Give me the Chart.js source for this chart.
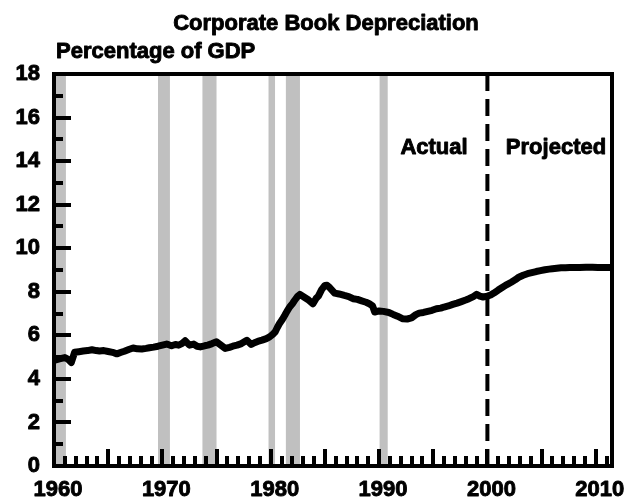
<!DOCTYPE html>
<html><head><meta charset="utf-8">
<script src="https://cdn.jsdelivr.net/npm/chart.js@4/dist/chart.umd.min.js"></script>
<style>html,body{margin:0;padding:0;background:#fff}#wrap{width:633px;height:504px;position:relative}</style>
</head><body><div id="wrap"><canvas id="c" width="633" height="504"></canvas></div>
<script>
const chartTitle = 'Corporate Book Depreciation';
const unitLabel = 'Percentage of GDP';
const labelActual = 'Actual';
const labelProjected = 'Projected';
const projectionStart = 2000;
const xTickYears = [1960, 1970, 1980, 1990, 2000, 2010];
const yTickValues = [0, 2, 4, 6, 8, 10, 12, 14, 16, 18];
const recessions = [[1960.0, 1961.1], [1969.6, 1970.7], [1973.7, 1975.0], [1979.8, 1980.4], [1981.4, 1982.7], [1990.05, 1990.8]];
const years = [1960.0,1960.5,1961.0,1961.3,1961.6,1961.9,1962.3,1962.7,1963.1,1963.5,1963.9,1964.2,1964.6,1965.0,1965.4,1965.8,1966.2,1966.5,1966.9,1967.3,1967.7,1968.1,1968.5,1968.8,1969.2,1969.6,1970.0,1970.4,1970.85,1971.2,1971.5,1971.8,1972.1,1972.5,1972.9,1973.2,1973.5,1973.9,1974.2,1974.6,1975.0,1975.4,1975.8,1976.2,1976.5,1976.9,1977.3,1977.8,1978.2,1978.5,1978.8,1979.2,1979.6,1979.9,1980.2,1980.4,1980.6,1980.8,1981.1,1981.3,1981.5,1981.75,1982.0,1982.2,1982.5,1982.7,1983.1,1983.5,1983.9,1984.2,1984.4,1984.7,1985.0,1985.2,1985.4,1985.9,1986.3,1986.8,1987.2,1987.6,1988.0,1988.4,1988.8,1989.1,1989.4,1989.6,1990.0,1990.4,1990.9,1991.3,1991.7,1992.2,1992.6,1993.0,1993.4,1993.7,1994.1,1994.5,1994.9,1995.3,1995.7,1996.0,1996.4,1996.8,1997.2,1997.6,1998.0,1998.3,1998.7,1999.0,1999.3,1999.6,2000.0,2000.3,2000.6,2001.0,2001.4,2001.8,2002.2,2002.6,2002.9,2003.3,2003.7,2004.1,2004.5,2004.9,2005.3,2005.7,2006.0,2006.4,2006.8,2007.2,2007.6,2008.0,2008.5,2009.1,2009.7,2010.2,2010.6,2011.0,2011.4];
const depreciation = [4.85,4.92,4.98,4.90,4.75,5.22,5.25,5.28,5.30,5.34,5.30,5.28,5.30,5.26,5.22,5.15,5.22,5.27,5.35,5.42,5.38,5.37,5.40,5.43,5.46,5.50,5.55,5.60,5.52,5.58,5.55,5.62,5.75,5.55,5.60,5.50,5.47,5.52,5.55,5.62,5.70,5.55,5.40,5.45,5.50,5.55,5.62,5.77,5.58,5.66,5.72,5.78,5.85,5.93,6.05,6.15,6.35,6.53,6.75,6.92,7.10,7.30,7.45,7.60,7.80,7.88,7.75,7.62,7.45,7.70,7.80,8.10,8.29,8.30,8.21,7.94,7.90,7.83,7.78,7.68,7.65,7.58,7.52,7.45,7.35,7.07,7.12,7.10,7.05,6.96,6.88,6.76,6.75,6.80,6.95,7.02,7.05,7.10,7.15,7.22,7.25,7.30,7.35,7.42,7.48,7.55,7.62,7.68,7.78,7.88,7.80,7.76,7.80,7.85,7.94,8.08,8.21,8.33,8.44,8.56,8.67,8.76,8.83,8.88,8.93,8.97,9.01,9.04,9.06,9.08,9.10,9.10,9.11,9.12,9.12,9.13,9.13,9.12,9.12,9.12,9.12];

const FONT = "'Liberation Sans', Arial, sans-serif";

function heavyText(ctx, txt, x, y) {
  ctx.fillText(txt, x, y);
  ctx.strokeText(txt, x, y);
}

const decor = {
  id: 'decor',
  beforeDatasetsDraw(chart) {
    const {ctx, chartArea: a, scales: {x}} = chart;
    ctx.save();
    ctx.fillStyle = '#c0c0c0';
    recessions.forEach(([s, e]) => {
      const x0 = Math.max(x.getPixelForValue(s), a.left);
      const x1 = x.getPixelForValue(e);
      ctx.fillRect(x0, a.top, x1 - x0, a.bottom - a.top);
    });
    ctx.restore();
  },
  afterDraw(chart) {
    const {ctx, chartArea: a, scales: {x, y}} = chart;
    ctx.save();
    ctx.strokeStyle = '#000';
    ctx.fillStyle = '#000';
    const px = x.getPixelForValue(projectionStart);
    ctx.lineWidth = 4;
    ctx.setLineDash([17, 8]);
    ctx.beginPath(); ctx.moveTo(px, a.top); ctx.lineTo(px, a.bottom); ctx.stroke();
    ctx.setLineDash([]);
    ctx.lineWidth = 4;
    ctx.strokeRect(a.left, a.top, a.right - a.left, a.bottom - a.top);
    for (let v = 0; v <= 18; v++) {
      const py = Math.round(y.getPixelForValue(v));
      const len = (v % 2 === 0) ? 17 : 9;
      ctx.fillRect(a.left, py - 2, len, 4);
    }
    for (let yr = 1960; yr <= 2011; yr++) {
      const xx = Math.round(x.getPixelForValue(yr));
      const len = (yr % 5 === 0) ? 17 : 10;
      ctx.fillRect(xx - 2, a.bottom - len, 4, len);
    }
    ctx.lineWidth = 0.9;
    ctx.lineJoin = 'round';
    ctx.font = 'bold 22px ' + FONT;
    ctx.textBaseline = 'middle';
    ctx.textAlign = 'center';
    heavyText(ctx, chartTitle, 326, 24);
    ctx.textAlign = 'left';
    heavyText(ctx, unitLabel, 56, 52);
    ctx.textAlign = 'center';
    heavyText(ctx, labelActual, 434, 148);
    heavyText(ctx, labelProjected, 556, 148);
    ctx.textAlign = 'right';
    yTickValues.forEach(v => heavyText(ctx, String(v), 40, y.getPixelForValue(v)));
    ctx.textAlign = 'center';
    xTickYears.forEach(v => heavyText(ctx, String(v), x.getPixelForValue(v) + 4, 490));
    ctx.restore();
  }
};

new Chart(document.getElementById('c'), {
  type: 'line',
  data: {
    datasets: [{
      data: years.map((yr, i) => ({x: yr, y: depreciation[i]})),
      borderColor: '#000',
      borderWidth: 7,
      pointRadius: 0,
      tension: 0,
      borderJoinStyle: 'round',
      fill: false
    }]
  },
  options: {
    responsive: false,
    devicePixelRatio: 1,
    animation: false,
    layout: {padding: {top: 74, right: 21, left: 0, bottom: 0}},
    plugins: {legend: {display: false}, tooltip: {enabled: false}, title: {display: false}},
    scales: {
      x: {
        type: 'linear', min: 1960, max: 2011.5,
        afterFit(s) { s.height = 38; },
        afterBuildTicks(s) { s.ticks = xTickYears.map(v => ({value: v})); },
        grid: {display: false, drawTicks: false},
        border: {display: false},
        ticks: {display: false}
      },
      y: {
        min: 0, max: 18,
        afterFit(s) { s.width = 54; },
        afterBuildTicks(s) { s.ticks = yTickValues.map(v => ({value: v})); },
        grid: {display: false, drawTicks: false},
        border: {display: false},
        ticks: {display: false}
      }
    }
  },
  plugins: [decor]
});
</script></body></html>
